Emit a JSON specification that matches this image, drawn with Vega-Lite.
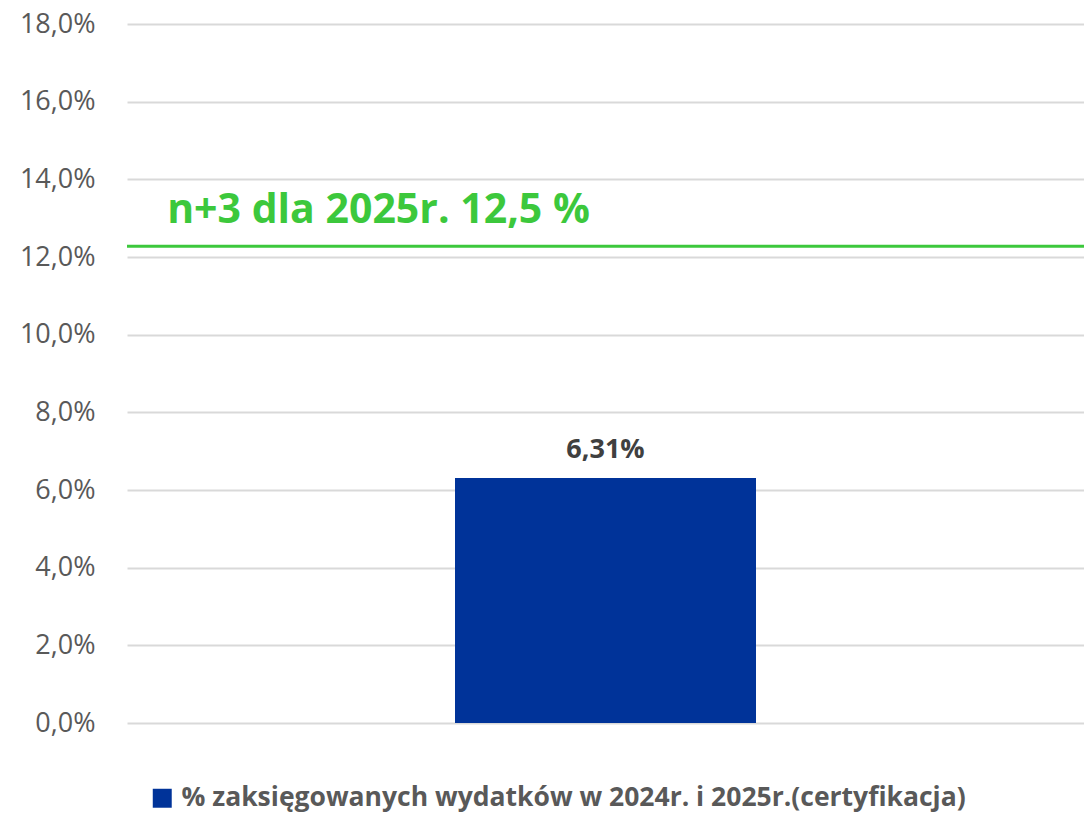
{
  "$schema": "https://vega.github.io/schema/vega-lite/v6.json",
  "autosize": "none",
  "width": 957,
  "height": 699,
  "padding": {"left": 127, "top": 24, "right": 0, "bottom": 90},
  "background": "white",
  "config": {
    "font": "Open Sans",
    "view": {"stroke": null},
    "locale": {"number": {"decimal": ",", "thousands": " ", "grouping": [3], "currency": ["", " zł"]}}
  },
  "datasets": {
    "bars": [{"cat": "A", "series": "% zaksięgowanych wydatków w 2024r. i 2025r.(certyfikacja)", "value": 0.0631}],
    "limit": [{"cat": "A", "threshold": 0.1228, "label": "n+3 dla 2025r. 12,5 %"}]
  },
  "encoding": {
    "x": {"field": "cat", "type": "nominal", "axis": null, "scale": {"paddingInner": 0, "paddingOuter": 0}}
  },
  "layer": [
    {
      "data": {"name": "bars"},
      "mark": {"type": "bar", "width": 301},
      "encoding": {
        "y": {
          "field": "value", "type": "quantitative",
          "scale": {"domain": [0, 0.18], "nice": false},
          "axis": {
            "title": null, "values": [0, 0.02, 0.04, 0.06, 0.08, 0.1, 0.12, 0.14, 0.16, 0.18],
            "format": ".1%", "domain": false, "ticks": false, "labelPadding": 32,
            "labelFontSize": 27, "labelColor": "#595959", "labelFont": "Open Sans",
            "gridColor": "#D9D9D9", "gridWidth": 2
          }
        },
        "color": {
          "field": "series", "type": "nominal",
          "scale": {"range": ["#003399"]},
          "legend": {
            "title": null, "orient": "none", "legendX": 22, "legendY": 761,
            "symbolType": "square", "symbolSize": 360, "symbolStrokeWidth": 0,
            "labelFontSize": 26.5, "labelFontWeight": "bold", "labelColor": "#595959",
            "labelLimit": 1000, "labelOffset": 6
          }
        }
      }
    },
    {
      "data": {"name": "bars"},
      "mark": {"type": "text", "fontSize": 27, "fontWeight": "bold", "color": "#404040", "dy": -20, "baseline": "alphabetic", "align": "center"},
      "encoding": {
        "y": {"field": "value", "type": "quantitative"},
        "text": {"field": "value", "type": "quantitative", "format": ".2%"}
      }
    },
    {
      "data": {"name": "limit"},
      "mark": {"type": "rule", "color": "#3CC83C", "strokeWidth": 3},
      "encoding": {
        "x": null,
        "y": {"field": "threshold", "type": "quantitative"}
      }
    },
    {
      "data": {"name": "limit"},
      "mark": {"type": "text", "fontSize": 41, "fontWeight": "bold", "color": "#3CC83C", "dy": -23, "dx": -227, "baseline": "alphabetic", "align": "center"},
      "encoding": {
        "y": {"field": "threshold", "type": "quantitative"},
        "text": {"field": "label", "type": "nominal"}
      }
    }
  ]
}
